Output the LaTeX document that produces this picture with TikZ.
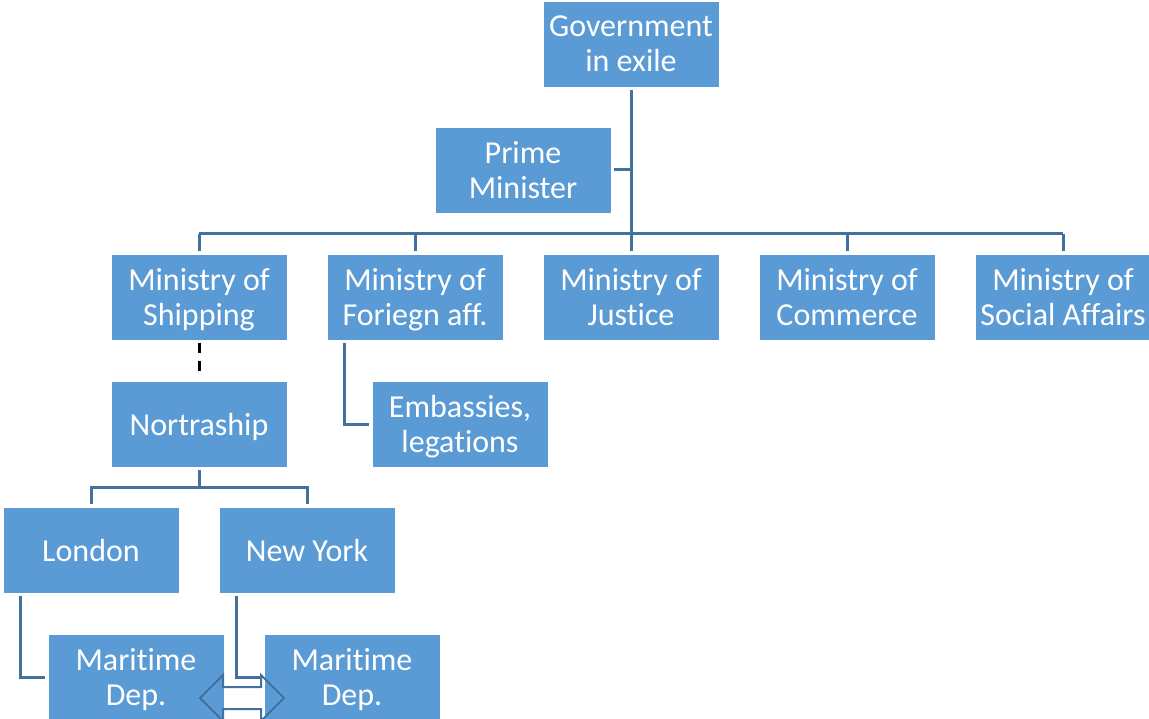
\documentclass[tikz,border=0pt]{standalone}
\usepackage{fontspec}
\setmainfont{Carlito}[Ligatures=NoCommon]
\usepackage{tikz}
\usepackage{xcolor}
\usetikzlibrary{arrows,calc,positioning,shapes}
\definecolor{boxblue}{HTML}{5B9BD5}
\definecolor{lineblue}{HTML}{41719C}
\tikzset{%
	unit/.style      = {draw=white, line width=0.8pt, fill=boxblue, text=white, rectangle, minimum width=176pt, minimum height=86pt, inner sep=0pt, outer sep=3pt, align=center, text depth=0pt, font=\fontsize{32pt}{35pt}\selectfont}, % Box
	link/.style      = {draw=lineblue, line width=3pt}, % Connector
	dashlink/.style  = {draw=black, line width=3pt, dash pattern=on 10pt off 8pt}, % Loose tie
	swaparrow/.style = {draw=lineblue, line width=2pt, line join=miter}, % Exchange
	waypoint/.style  = {coordinate},
}
\begin{document}
\begin{tikzpicture}[x=1pt,y=-1pt,node distance=216pt]
		\useasboundingbox (0,0) rectangle (1149,719);
		\node [unit] (gov) at (631,44) {Government\\in exile};
		\node [unit] (pm) at (523,170) {Prime\\Minister};
		\node [unit] (ship) at (199,297) {Ministry of\\Shipping};
		\node [unit] (foreign) [right of=ship] {Ministry of\\Foriegn aff.};
		\node [unit] (justice) [right of=foreign] {Ministry of\\Justice};
		\node [unit] (commerce) [right of=justice] {Ministry of\\Commerce};
		\node [unit] (social) [right of=commerce] {Ministry of\\Social Affairs};
		\node [unit] (nortra) [below of=ship,node distance=127pt] {Nortraship};
		\node [unit] (embassy) [right of=nortra,node distance=261pt] {Embassies,\\legations};
		\node [unit] (london) at (91,550) {London};
		\node [unit] (newyork) [right of=london] {New York};
		\node [unit] (mdl) at (136,677) {Maritime\\Dep.};
		\node [unit] (mdr) [right of=mdl] {Maritime\\Dep.};
		\node [waypoint] (hub) at (631,234) {};
		\node [waypoint] (split) at (199,487) {};
		\node [waypoint] (swap) at ($(mdl.east)!0.5!(mdr.west)+(-2,21)$) {};
		
		\draw[link] (gov) -- (hub);
		\draw[link] (pm.east) -- (pm.east -| hub);
		\draw[link] (ship.north |- hub) -- (social.north |- hub);
		\foreach \m in {ship,foreign,justice,commerce,social}
			\draw[link] (\m.north) -- (\m.north |- hub);
		\draw[dashlink] (ship) -- (nortra);
		\draw[link] ([xshift=20pt]foreign.south west) |- (embassy.west);
		\draw[link] (nortra) -- (split);
		\draw[link] (london.north) |- (split) -| (newyork.north);
		\draw[link] ([xshift=20pt]london.south west) |- (mdl.west);
		\draw[link] ([xshift=20pt]newyork.south west) |- (mdr.west);
		
		% two-headed block arrow between the maritime departments
		\draw[swaparrow] (swap) ++(-42,0) -- ++(23,-23) -- ++(0,12) -- ++(38,0) -- ++(0,-12)
			-- ++(23,23) -- ++(-23,23) -- ++(0,-12) -- ++(-38,0) -- ++(0,12) -- cycle;
		\end{tikzpicture}
\end{document}
